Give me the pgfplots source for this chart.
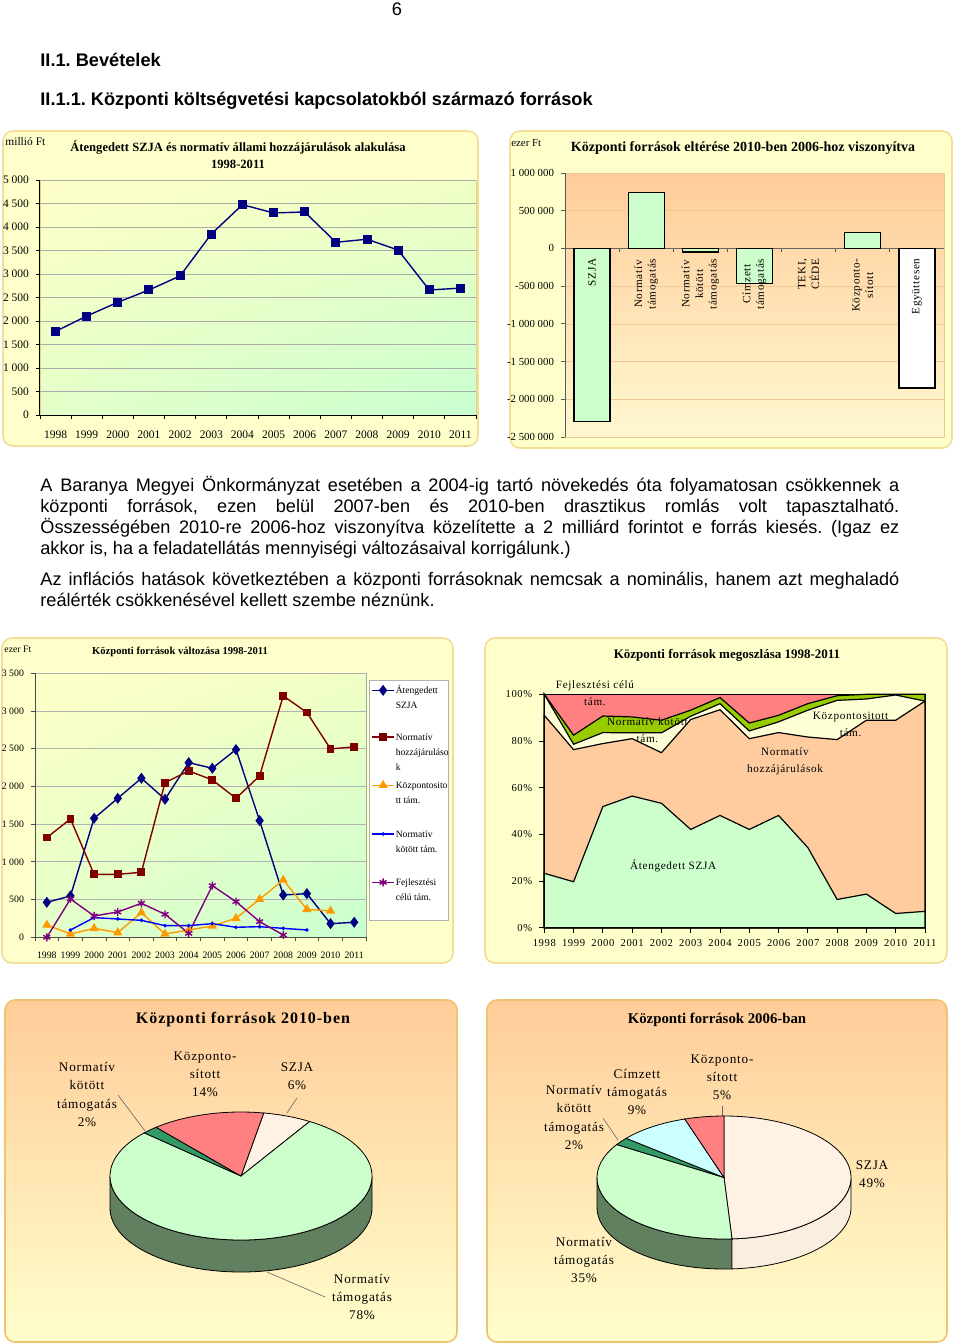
\documentclass[border=0pt]{standalone}
\usepackage{fontspec}
\setmainfont{Liberation Serif}
\newfontfamily\arial{Liberation Sans}
\newfontfamily\tsp[LetterSpace=6]{Liberation Serif}
\usepackage{pgfplots}
\pgfplotsset{compat=1.18}
\usetikzlibrary{shadings}
\frenchspacing

\definecolor{boxyel}{RGB}{255,255,204}
\definecolor{boxline}{RGB}{242,222,150}
\definecolor{pieline}{RGB}{238,196,110}
\definecolor{paor}{RGB}{255,204,153}
\definecolor{bgA}{RGB}{255,255,200}
\definecolor{bgB}{RGB}{240,255,196}
\definecolor{bgC}{RGB}{228,255,200}
\definecolor{bgD}{RGB}{200,255,208}
\definecolor{goldln}{RGB}{230,210,120}
\definecolor{gridor}{RGB}{240,200,150}
\definecolor{lyel}{RGB}{255,248,208}
\definecolor{navyc}{RGB}{0,0,128}
\definecolor{dredc}{RGB}{128,0,0}
\definecolor{orc}{RGB}{255,153,0}
\definecolor{bluec}{RGB}{0,0,255}
\definecolor{purc}{RGB}{128,0,128}
\definecolor{lgreenc}{RGB}{204,255,204}
\definecolor{peachc}{RGB}{255,204,160}
\definecolor{creamc}{RGB}{255,255,214}
\definecolor{limec}{RGB}{153,204,0}
\definecolor{salmonc}{RGB}{255,128,128}
\definecolor{szjac}{RGB}{255,242,228}
\definecolor{tealc}{RGB}{51,153,102}
\definecolor{cyanc}{RGB}{204,255,255}
\definecolor{sidegc}{RGB}{96,128,96}
\definecolor{sidecc}{RGB}{250,238,222}

% side of a 3D pie between two angles (lower half only)
\newcommand\pieside[3]{%
  \filldraw[fill=#3, draw=black, line width=0.4pt] ({\rx*cos(#1)},{\ry*sin(#1)})
    arc[start angle=#1, end angle=#2, x radius=\rx, y radius=\ry] -- ++(0,-\dd)
    arc[start angle=#2, end angle=#1, x radius=\rx, y radius=\ry] -- cycle;}

\begin{document}
\begin{tikzpicture}
\useasboundingbox (0,0) rectangle (480pt,-672pt);
\fill[white] (0,0) rectangle (480pt,-672pt);

% chart frames
\filldraw[fill=boxyel, draw=boxline, line width=0.8pt, rounded corners=5pt] (1.5pt,-65.5pt) rectangle (239pt,-223pt);
\filldraw[fill=boxyel, draw=boxline, line width=0.8pt, rounded corners=5pt] (255pt,-65.5pt) rectangle (476pt,-224pt);
\filldraw[fill=boxyel, draw=boxline, line width=0.8pt, rounded corners=5pt] (1pt,-319pt) rectangle (226.5pt,-481.5pt);
\filldraw[fill=boxyel, draw=boxline, line width=0.8pt, rounded corners=5pt] (242.5pt,-319pt) rectangle (473.5pt,-481.5pt);
\shade[top color=paor, bottom color=boxyel, rounded corners=5pt] (2.5pt,-500pt) rectangle (228.5pt,-671pt);
\draw[pieline, line width=0.8pt, rounded corners=5pt] (2.5pt,-500pt) rectangle (228.5pt,-671pt);
\shade[top color=paor, bottom color=boxyel, rounded corners=5pt] (243.5pt,-500pt) rectangle (473.5pt,-671pt);
\draw[pieline, line width=0.8pt, rounded corners=5pt] (243.5pt,-500pt) rectangle (473.5pt,-671pt);

\begin{scope}[x=0.5pt, y=-0.5pt]
  % page head
  \node[anchor=base, inner sep=0, font=\arial\fontsize{9.1}{11}\selectfont] at (397,15) {6};
  \node[anchor=base west, inner sep=0, font=\arial\bfseries\fontsize{9.1}{11}\selectfont] at (40,66) {II.1. Bevételek};
  \node[anchor=base west, inner sep=0, font=\arial\bfseries\fontsize{9.1}{11}\selectfont] at (40,105) {II.1.1. Központi költségvetési kapcsolatokból származó források};

  % chart titles and units
  \node[inner sep=0, align=center, font=\bfseries\fontsize{6.3}{8.5}\selectfont] at (238,154.5) {Átengedett SZJA és normatív állami hozzájárulások alakulása\\1998-2011};
  \node[anchor=west, inner sep=0, font=\fontsize{5.75}{6}\selectfont] at (5,142) {millió Ft};
  \node[inner sep=0, font=\bfseries\fontsize{7}{8}\selectfont] at (743,148) {Központi források eltérése 2010-ben 2006-hoz viszonyítva};
  \node[anchor=west, inner sep=0, font=\fontsize{5.4}{6}\selectfont] at (511,143) {ezer Ft};
  \node[inner sep=0, font=\bfseries\fontsize{5.3}{6}\selectfont] at (180,652) {Központi források változása 1998-2011};
  \node[anchor=west, inner sep=0, font=\fontsize{4.9}{6}\selectfont] at (4,649) {ezer Ft};
  \node[inner sep=0, font=\bfseries\fontsize{6.5}{7}\selectfont] at (727,655) {Központi források megoszlása 1998-2011};

  % body text
  \node[anchor=base west, inner sep=0, font=\arial] at (40,491) {\parbox[t]{429.5pt}{\fontsize{9.07}{10.5}\selectfont
    \setlength\parskip{5pt}\tolerance=9999 \hyphenpenalty=10000 \emergencystretch=30pt
    A Baranya Megyei Önkormányzat esetében a 2004-ig tartó növekedés óta folyamatosan csökkennek a\linebreak
    központi források, ezen belül 2007-ben és 2010-ben drasztikus romlás volt tapasztalható.\linebreak
    Összességében 2010-re 2006-hoz viszonyítva közelítette a 2 milliárd forintot e forrás kiesés. (Igaz ez\linebreak
    akkor is, ha a feladatellátás mennyiségi változásaival korrigálunk.)\par
    Az inflációs hatások következtében a központi forrásoknak nemcsak a nominális, hanem azt meghaladó\linebreak
    reálérték csökkenésével kellett szembe néznünk.}};

  % pie titles, labels and leader lines
  \node[inner sep=0, font=\tsp\bfseries\fontsize{8}{9}\selectfont] at (243,1020) {Központi források 2010-ben};
  \node[inner sep=0, font=\bfseries\fontsize{7.4}{9}\selectfont] at (717,1020) {Központi források 2006-ban};
  \begin{scope}[every node/.style={inner sep=0, align=center, font=\tsp\fontsize{6.6}{9.1}\selectfont}]
    \node at (87,1094.5) {Normatív\\kötött\\támogatás\\2\%};
    \node at (205,1074.5) {Központo-\\sított\\14\%};
    \node at (297,1076) {SZJA\\6\%};
    \node at (362,1297) {Normatív\\támogatás\\78\%};
    \node at (574,1117.5) {Normatív\\kötött\\támogatás\\2\%};
    \node at (637,1092) {Címzett\\támogatás\\9\%};
    \node at (722,1077) {Központo-\\sított\\5\%};
    \node at (872,1174.5) {SZJA\\49\%};
    \node at (584,1260) {Normatív\\támogatás\\35\%};
  \end{scope}
  \draw[gray!80!black, line width=0.3pt] (118,1095) -- (145,1131);
  \draw[gray!80!black, line width=0.3pt] (297,1098) -- (287,1113);
  \draw[gray!80!black, line width=0.3pt] (267,1272) -- (325,1297);
  \draw[gray!80!black, line width=0.3pt] (603,1118) -- (618,1140);
  \draw[gray!80!black, line width=0.3pt] (722,1106) -- (722,1116);
\end{scope}

% ---------- chart 1: line chart of SZJA and normative contributions
\begin{axis}[
  at={(20pt,-207.5pt)}, anchor=south west, scale only axis,
  width=218pt, height=117.5pt,
  xmin=-0.5, xmax=13.5, ymin=0, ymax=5000,
  axis x line*=bottom, axis y line*=left,
  axis line style={black, line width=0.5pt},
  axis background/.style={shade, upper left=bgA, upper right=bgB, lower left=bgC, lower right=bgD, draw=goldln},
  xtick={-0.5,0.5,...,13.5},
  xticklabels={1998,1999,2000,2001,2002,2003,2004,2005,2006,2007,2008,2009,2010,2011},
  x tick label as interval,
  xticklabel style={yshift=-2.2pt},
  ytick={0,500,...,5000},
  yticklabels={0,500,1 000,1 500,2 000,2 500,3 000,3 500,4 000,4 500,5 000},
  tick align=outside, major tick length=2pt, tick style={black, line width=0.4pt},
  ymajorgrids, major grid style={draw=gray!65, line width=0.4pt},
  tick label style={font=\fontsize{5.75}{6}\selectfont},
]
\addplot[navyc, line width=0.7pt, mark=square*, mark size=1.9pt, mark options={fill=navyc}] coordinates {
  (0,1780) (1,2105) (2,2400) (3,2660) (4,2960) (5,3850) (6,4475)
  (7,4300) (8,4320) (9,3675) (10,3740) (11,3510) (12,2660) (13,2700)};
\end{axis}

% ---------- chart 2: difference 2010 vs 2006 (ezer Ft)
\begin{axis}[
  at={(282.5pt,-218.5pt)}, anchor=south west, scale only axis,
  width=189.5pt, height=132pt,
  xmin=-0.5, xmax=6.5, ymin=-2500000, ymax=1000000,
  axis x line*=middle, axis y line*=left,
  x axis line style={draw=gray!80!black, line width=0.5pt},
  y axis line style={draw=gray!70!black, line width=0.5pt},
  axis background/.style={top color=paor, bottom color=lyel, draw=goldln},
  xtick={0.5,1.5,...,5.5}, xticklabels={},
  ytick={-2500000,-2000000,...,1000000},
  yticklabels={-2 500 000,-2 000 000,-1 500 000,-1 000 000,-500 000,0,500 000,1 000 000},
  scaled y ticks=false,
  tick align=outside, major tick length=2pt, tick style={gray!70!black, line width=0.4pt},
  ymajorgrids, major grid style={draw=gridor, line width=0.3pt},
  tick label style={font=\fontsize{5.4}{6}\selectfont},
  clip=false,
]
% TEKI, CÉDE is 0 and shows no bar
\addplot[ybar, bar width=18pt, bar shift=0pt, fill=lgreenc, draw=black, line width=0.6pt] coordinates {
  (0,-2295000) (1,745000) (2,-48000) (3,-467000) (5,216000)};
\addplot[ybar, bar width=18pt, bar shift=0pt, fill=white, draw=black, line width=0.6pt] coordinates {
  (6,-1850000)};
\begin{scope}[every node/.style={rotate=90, anchor=east, align=center, inner sep=0,
    font=\tsp\fontsize{5.6}{6.8}\selectfont}]
  \node at (axis cs:0,-130000) {SZJA};
  \node at (axis cs:1,-130000) {Normatív\\támogatás};
  \node at (axis cs:2,-130000) {Normatív\\kötött\\támogatás};
  \node at (axis cs:3,-130000) {Címzett\\támogatás};
  \node at (axis cs:4,-130000) {TEKI,\\CÉDE};
  \node at (axis cs:5,-130000) {Központo-\\sított};
  \node at (axis cs:6,-130000) {Együttesen};
\end{scope}
\end{axis}

% ---------- chart 3: sources 1998-2011 (ezer Ft)
\begin{axis}[
  at={(17.5pt,-468.65pt)}, anchor=south west, scale only axis,
  width=165.5pt, height=132pt,
  xmin=-0.5, xmax=13.5, ymin=0, ymax=3500,
  axis x line*=bottom, axis y line*=left,
  axis line style={gray!60!black, line width=0.5pt},
  axis background/.style={shade, upper left=bgA, upper right=bgB, lower left=bgC, lower right=bgD, draw=gray!70},
  xtick={-0.5,0.5,...,13.5},
  xticklabels={1998,1999,2000,2001,2002,2003,2004,2005,2006,2007,2008,2009,2010,2011},
  x tick label as interval,
  xticklabel style={yshift=-2pt},
  ytick={0,500,...,3500},
  yticklabels={0,500,1 000,1 500,2 000,2 500,3 000,3 500},
  tick align=outside, major tick length=2pt, tick style={gray!60!black, line width=0.4pt},
  ymajorgrids, major grid style={draw=gray!60, line width=0.4pt},
  tick label style={font=\fontsize{4.9}{5}\selectfont},
  legend style={at={(1.009,0.975)}, anchor=north west, draw=gray!60, fill=white,
    font=\fontsize{4.8}{7.6}\selectfont, cells={anchor=base west},
    nodes={inner sep=0.5pt, text depth=}, row sep=5.2pt, inner xsep=1pt, inner ysep=2pt},
  legend image code/.code={\draw[mark repeat=2, mark phase=2, #1]
    plot coordinates {(0pt,1.6pt) (5.5pt,1.6pt) (11pt,1.6pt)};},
  every axis plot/.append style={line width=0.7pt},
]
\addplot[navyc, mark=diamond*, mark size=2.2pt, mark options={fill=navyc}] coordinates {
  (0,464) (1,548) (2,1578) (3,1843) (4,2109) (5,1830) (6,2316)
  (7,2241) (8,2489) (9,1547) (10,561) (11,579) (12,181) (13,199)};
\addlegendentry{\parbox[t][18pt][t]{25pt}{\raggedright Átengedett\\SZJA}}
\addplot[dredc, mark=square*, mark size=1.6pt, mark options={fill=dredc}] coordinates {
  (0,1322) (1,1569) (2,835) (3,835) (4,862) (5,2051) (6,2206)
  (7,2087) (8,1843) (9,2140) (10,3201) (11,2980) (12,2498) (13,2524)};
\addlegendentry{\parbox[t][18pt][t]{25pt}{\raggedright Normatív\\hozzájáruláso\\k}}
\addplot[orc, mark=triangle*, mark size=2pt, mark options={fill=orc}] coordinates {
  (0,164) (1,44) (2,119) (3,62) (4,327) (5,44) (6,97)
  (7,150) (8,252) (9,504) (10,760) (11,371) (12,349)};
\addlegendentry{\parbox[t][18pt][t]{25pt}{\raggedright Központosito\\tt tám.}}
\addplot[bluec, mark=*, mark size=0.5pt] coordinates {
  (1,97) (2,261) (3,243) (4,225) (5,155) (6,155)
  (7,181) (8,133) (9,141) (10,119) (11,97)};
\addlegendentry{\parbox[t][18pt][t]{25pt}{\raggedright Normatív\\kötött tám.}}
\addplot[purc, mark=asterisk, mark size=2pt] coordinates {
  (0,0) (1,508) (2,283) (3,336) (4,451) (5,305) (6,53)
  (7,685) (8,473) (9,208) (10,31)};
\addlegendentry{\parbox[t][18pt][t]{25pt}{\raggedright Fejlesztési\\célú tám.}}
\end{axis}

% ---------- chart 4: shares 1998-2011, cumulative percent (top layer drawn first)
\begin{axis}[
  at={(272.15pt,-463.85pt)}, anchor=south west, scale only axis,
  width=190.35pt, height=116.7pt,
  xmin=0, xmax=13, ymin=0, ymax=100,
  axis x line*=bottom, axis y line*=left,
  axis line style={black, line width=0.6pt},
  xtick={0,...,13},
  xticklabels={1998,1999,2000,2001,2002,2003,2004,2005,2006,2007,2008,2009,2010,2011},
  ytick={0,20,...,100},
  yticklabels={0\%,20\%,40\%,60\%,80\%,100\%},
  tick align=outside, major tick length=2.5pt, tick style={black, line width=0.4pt},
  tick label style={font=\tsp\fontsize{5.3}{6}\selectfont},
  clip=false,
]
% Fejlesztési célú tám. (top = 100%)
\addplot[fill=salmonc, draw=black, line width=0.6pt] coordinates {
  (0,100) (1,100) (2,100) (3,100) (4,100) (5,100) (6,100)
  (7,100) (8,100) (9,100) (10,100) (11,100) (12,100) (13,100)} \closedcycle;
% Normatív kötött tám.
\addplot[fill=limec, draw=black, line width=0.6pt] coordinates {
  (0,100) (1,82.5) (2,90.7) (3,90.3) (4,88.9) (5,93.2) (6,98.6)
  (7,87.7) (8,91.0) (9,96.0) (10,99.4) (11,100) (12,100) (13,100)} \closedcycle;
% Központosított tám.
\addplot[fill=creamc, draw=black, line width=0.6pt] coordinates {
  (0,100) (1,78.6) (2,83.6) (3,83.5) (4,83.5) (5,90.6) (6,96.0)
  (7,84.3) (8,88.2) (9,93.2) (10,97.4) (11,98.0) (12,99.7) (13,97.1)} \closedcycle;
% Normatív hozzájárulások
\addplot[fill=peachc, draw=black, line width=0.6pt] coordinates {
  (0,91.0) (1,76.3) (2,78.9) (3,81.0) (4,75.0) (5,89.2) (6,93.4)
  (7,81.0) (8,83.6) (9,81.7) (10,80.6) (11,88.9) (12,88.9) (13,97.1)} \closedcycle;
% Átengedett SZJA
\addplot[fill=lgreenc, draw=black, line width=0.6pt] coordinates {
  (0,23.3) (1,19.7) (2,51.9) (3,56.4) (4,53.3) (5,42.1) (6,48.1)
  (7,42.1) (8,48.1) (9,34.3) (10,12.1) (11,14.4) (12,6.1) (13,7.0)} \closedcycle;
\begin{scope}[every node/.style={inner sep=0, align=center, font=\tsp\fontsize{5.6}{8.5}\selectfont}]
  \node at (axis cs:1.73,100.3) {Fejlesztési célú\\tám.};
  \node at (axis cs:3.52,84.5) {Normatív kötött\\tám.};
  \node at (axis cs:10.46,87.3) {Központositott\\tám.};
  \node at (axis cs:8.22,71.2) {Normatív\\hozzájárulások};
  \node at (axis cs:4.40,26.4) {Átengedett SZJA};
\end{scope}
\end{axis}

% ---------- pie 2010
\begin{scope}[shift={(120.5pt,-588pt)}]
  \def\rx{65.5pt}\def\ry{32pt}\def\dd{16pt}
  \pieside{180}{360}{sidegc}
  \foreach \p/\c [remember=\e as \s (initially 80)] in {6/szjac,78/lgreenc,2/tealc,14/salmonc} {
    \pgfmathsetmacro\e{\s-3.6*\p}
    \filldraw[fill=\c, draw=black, line width=0.4pt] (0,0) -- ({\rx*cos(\s)},{\ry*sin(\s)})
      arc[start angle=\s, end angle=\e, x radius=\rx, y radius=\ry] -- cycle;
  }
\end{scope}

% ---------- pie 2006
\begin{scope}[shift={(362pt,-588.75pt)}]
  \def\rx{63.5pt}\def\ry{30.75pt}\def\dd{15pt}
  \pieside{180}{273.6}{sidegc}
  \pieside{273.6}{360}{sidecc}
  \foreach \p/\c [remember=\e as \s (initially 90)] in {49/szjac,35/lgreenc,2/tealc,9/cyanc,5/salmonc} {
    \pgfmathsetmacro\e{\s-3.6*\p}
    \filldraw[fill=\c, draw=black, line width=0.4pt] (0,0) -- ({\rx*cos(\s)},{\ry*sin(\s)})
      arc[start angle=\s, end angle=\e, x radius=\rx, y radius=\ry] -- cycle;
  }
\end{scope}
\end{tikzpicture}
\end{document}
